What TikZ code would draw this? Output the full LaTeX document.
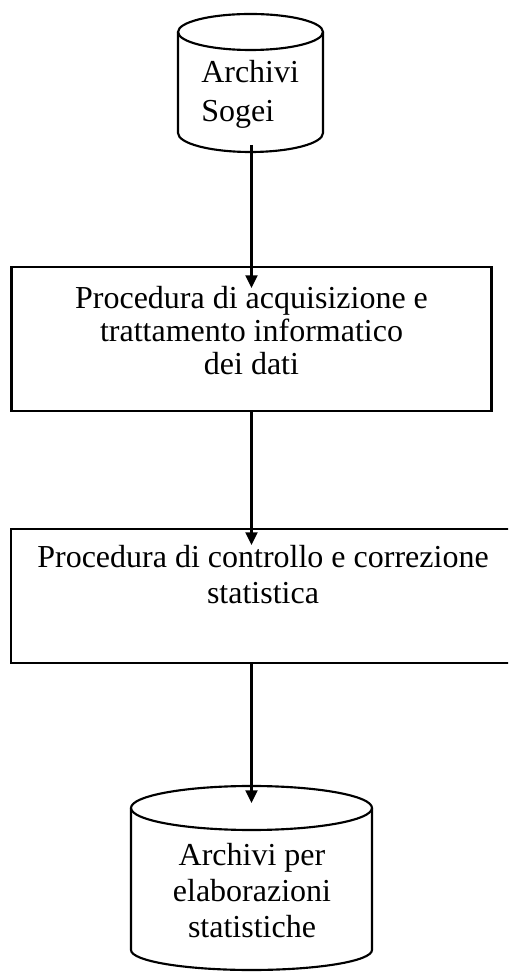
\documentclass[tikz,border=0pt]{standalone}
\usepackage{fontspec}
\setmainfont{Liberation Serif}
\usetikzlibrary{arrows.meta,calc}
\begin{document}
\begin{tikzpicture}[x=0.75pt,y=0.75pt,
  ln/.style={line width=1.6pt},
  boxn/.style={draw, line width=1.6pt, inner sep=0pt, outer sep=0pt},
  txt/.style={inner sep=0pt, font=\fontsize{24}{24.75}\selectfont, align=center},
  arr/.style={line width=1.6pt, -{Triangle[width=9pt,length=9.5pt]}}]
\useasboundingbox (0,0) rectangle (508,972);
\clip (0,0) rectangle (508,972);
% top cylinder
\node[inner sep=0pt, outer sep=0pt, minimum width=108.75pt, minimum height=75.75pt] (cyl1) at (250.5,889.5) {};
\draw[ln] (cyl1.north) ellipse [x radius=54.375pt, y radius=13.5pt];
\draw[ln] (cyl1.north west) -- (cyl1.south west) arc[start angle=180, end angle=360, x radius=54.375pt, y radius=14.25pt] -- (cyl1.north east);
\node[txt, align=left, anchor=base west, font=\fontsize{24}{29.25}\selectfont] (t0) at (201,850) {Archivi\\Sogei};
% box 1
\node[boxn, minimum width=360pt, minimum height=108pt] (b1) at (251.5,633) {};
\node[txt, anchor=base] (t1) at (251.5,597) {Procedura di acquisizione e\\trattamento informatico\\dei dati};
% box 2
\node[boxn, minimum width=378pt, minimum height=100.5pt] (b2) at (263,376) {};
\node[txt, anchor=base, font=\fontsize{24}{27}\selectfont] (t2) at (263,368) {Procedura di controllo e correzione\\statistica};
% bottom cylinder
\node[inner sep=0pt, outer sep=0pt, minimum width=180.75pt, minimum height=106.5pt] (cyl2) at (251.5,93) {};
\draw[ln] (cyl2.north) ellipse [x radius=90.375pt, y radius=16.5pt];
\draw[ln] (cyl2.north west) -- (cyl2.south west) arc[start angle=180, end angle=360, x radius=90.375pt, y radius=15pt] -- (cyl2.north east);
\node[txt, anchor=base, font=\fontsize{24}{27}\selectfont] (t3) at (252,35) {Archivi per\\elaborazioni\\statistiche};
% connectors
\coordinate (s1) at ($(cyl1.south)+(1,-12)$);
\draw[arr] (s1) -- ($(b1.north -| s1)+(0,-21)$);
\draw[arr] (b1.south) -- ($(b2.north -| b1.south)+(0,-16)$);
\draw[arr] (b2.south -| cyl2.north) -- ($(cyl2.north)+(0,5)$);
\end{tikzpicture}
\end{document}
